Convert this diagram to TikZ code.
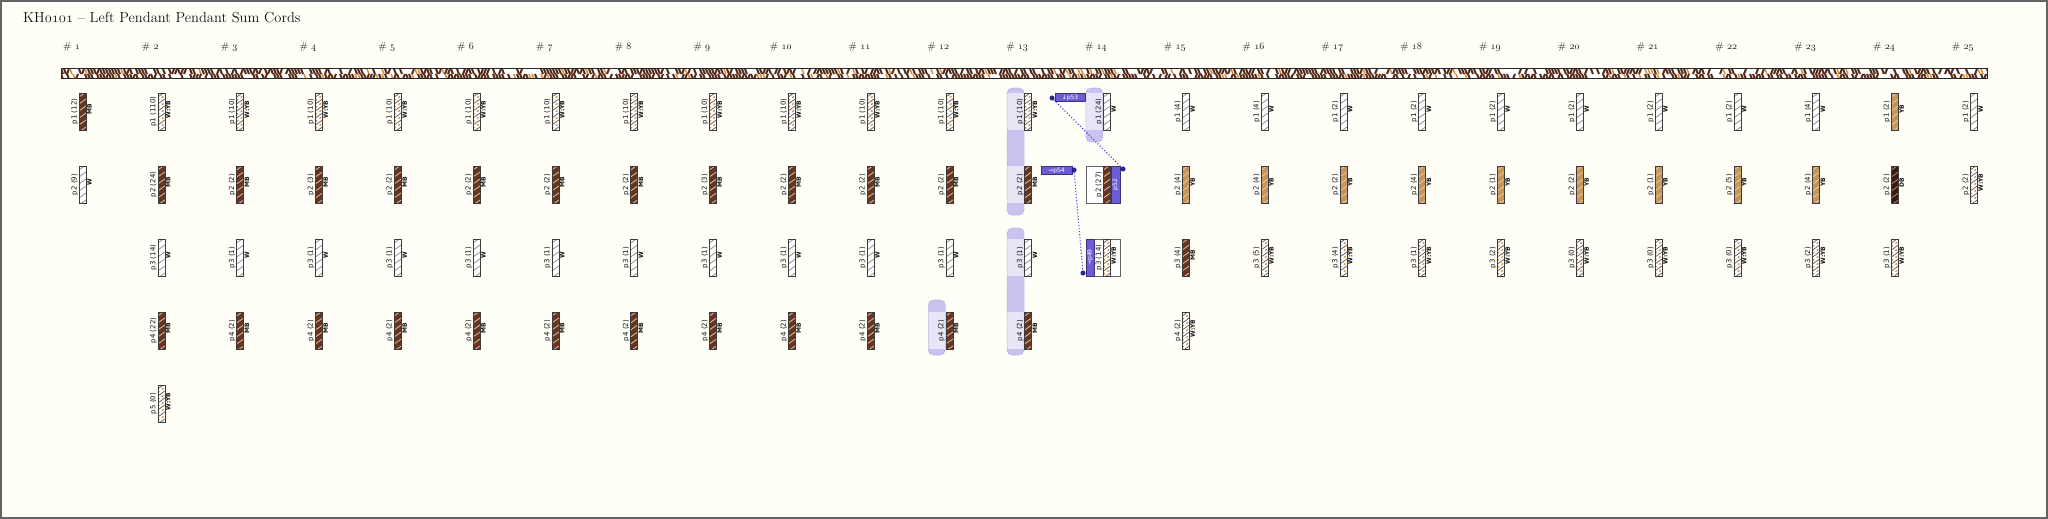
\documentclass[tikz,border=0pt]{standalone}
\usepackage{fontspec}
\newfontfamily\cordfont{DejaVu Sans}

\definecolor{paper}{RGB}{255,254,247}
\definecolor{framegray}{RGB}{100,100,100}
\definecolor{inkdark}{RGB}{20,20,20}
\definecolor{cordMB}{RGB}{104,52,30}
\definecolor{cordYB}{RGB}{200,148,88}
\definecolor{cordDB}{RGB}{62,26,14}
\definecolor{cordedge}{RGB}{60,60,60}
\definecolor{bandouter}{RGB}{201,195,240}
\definecolor{bandinner}{RGB}{231,229,246}
\definecolor{bandedge}{RGB}{175,165,228}
\definecolor{sumblue}{RGB}{108,92,214}
\definecolor{dotblue}{RGB}{40,40,170}
\definecolor{linkblue}{RGB}{80,70,235}

% old style figures (as in the heading)
\newcommand\osn[1]{{\usefont{OML}{cmm}{m}{it}#1}}
% colour codes printed beside the cords
\def\lblW{W}\def\lblMB{MB}\def\lblYB{YB}\def\lblDB{DB}\def\lblWYB{W:YB}

\tikzset{
  cord/.style 2 args={draw=cordedge, line width=.6pt, fill=#1,
    minimum width=7pt, minimum height=37pt, inner sep=0pt, outer sep=0pt,
    path picture={\foreach \k in {0,...,5}
      \draw[#2, line width=.8pt] ([yshift=\k*7pt-2pt]path picture bounding box.south west) -- ++(7pt,5pt);}},
  cord W/.style={cord={white}{gray!85}},
  cord MB/.style={cord={cordMB}{white!70!cordMB}},
  cord YB/.style={cord={cordYB}{white!50!cordYB}},
  cord DB/.style={cord={cordDB}{white!50!cordDB}},
  cord WYB/.style={cord={white}{black!65},
    path picture={\foreach \k in {0,...,5}{
      \draw[black!65, line width=.7pt] ([yshift=\k*7pt-2pt]path picture bounding box.south west) -- ++(7pt,5pt);
      \draw[cordYB!70!orange, line width=1.3pt, dash pattern=on 2pt off 3pt] ([yshift=\k*7pt+1.5pt]path picture bounding box.south west) -- ++(7pt,5pt);}}},
  plabel/.style={rotate=90, anchor=south, inner sep=.8pt, text=inkdark,
    font=\cordfont\fontsize{7}{7}\selectfont},
  klabel/.style={rotate=90, anchor=north, inner sep=1pt, text=inkdark,
    font=\cordfont\bfseries\fontsize{6}{6}\selectfont},
  colhead/.style={anchor=base, inner sep=0pt, text=inkdark, font=\fontsize{10}{12}\selectfont},
  topcord/.style={draw=black!85, line width=1pt, fill=white, inner sep=0pt,
    minimum width=1926pt, minimum height=10pt,
    path picture={\pgfmathsetseed{42}
      \foreach \k in {0,...,642}{
        \foreach \half in {0,1}{
          \pgfmathsetmacro\shade{rnd}
          \ifdim\shade pt<0.46pt
            \draw[cordMB!85!black, line width=2pt] ([xshift=\k*3pt, yshift=-\half*5pt]path picture bounding box.north west) -- ++(2pt,-5pt);
          \else\ifdim\shade pt<0.64pt
            \draw[cordMB!85!black, line width=2pt] ([xshift=\k*3pt+2pt, yshift=-\half*5pt]path picture bounding box.north west) -- ++(-2pt,-5pt);
          \else\ifdim\shade pt<0.72pt
            \draw[cordYB!70!orange, line width=1.5pt] ([xshift=\k*3pt, yshift=-\half*5pt]path picture bounding box.north west) -- ++(2pt,-5pt);
          \fi\fi\fi}}}},
  cellbox/.style={draw=gray!80!black, fill=white, line width=.6pt, inner sep=0pt,
    minimum width=34pt, minimum height=37pt},
  sumtag/.style={draw=sumblue!55!black, fill=sumblue, text=white, line width=.5pt,
    inner sep=.5pt, minimum height=8pt, font=\cordfont\fontsize{6}{6}\selectfont},
  dot/.style={circle, fill=dotblue, draw=dotblue!50!black, inner sep=0pt, minimum size=4.5pt},
  link/.style={draw=linkblue, dotted, line width=1.1pt}
}

\begin{document}
\begin{tikzpicture}[x=1pt, y=-1pt]
% page: 2048 x 519, one unit = one pixel, y grows downwards
\useasboundingbox (0,0) rectangle (2048,519);
\fill[paper] (0,0) rectangle (2048,519);
\draw[framegray, line width=2pt] (1,1) rectangle (2047,518);

% Heading
\node[anchor=base west, inner sep=0pt, text=inkdark, font=\fontsize{14.5}{16}\selectfont] (title) at (23,23)
  {KH\osn{0101} -- Left Pendant Pendant Sum Cords};

% Column numbers, pitch 78.8 px
\foreach \col in {1,...,25}{
  \node[colhead] (h\col) at ({82.5+(\col-1)*78.8-11},50) {\# \osn{\col}};
}

% Main cord
\node[topcord] (main) at (1024,74) {};

% Sum bands (behind the cords)
\foreach \col/\ya/\yb in {12/300/355, 13/88/215, 13/228/355, 14/88/142}{
  \pgfmathsetmacro\cx{82.5+(\col-1)*78.8}
  \fill[bandouter, rounded corners=5pt] (\cx-21,\ya) rectangle (\cx-4,\yb);
}
\foreach \col/\row in {12/4, 13/1, 13/2, 13/3, 13/4, 14/1}{
  \pgfmathsetmacro\cx{82.5+(\col-1)*78.8}
  \pgfmathsetmacro\cy{93+(\row-1)*73}
  \fill[bandinner] (\cx-21,\cy) rectangle (\cx-4,\cy+37);
}
\foreach \col/\ya/\yb in {12/300/355, 13/88/215, 13/228/355, 14/88/142}{
  \pgfmathsetmacro\cx{82.5+(\col-1)*78.8}
  \draw[bandedge, line width=.6pt, dash pattern=on 1.5pt off 1pt, rounded corners=5pt] (\cx-21,\ya) rectangle (\cx-4,\yb);
}

% Boxed cells of column 14
\node[cellbox] (b14-2) at (1103,184.5) {};
\node[cellbox] (b14-3) at (1103,257.5) {};

% Pendant cords: column / row / value / colour
\foreach \col/\row/\num/\kind in {
  1/1/12/MB, 1/2/9/W,
  2/1/110/WYB, 2/2/24/MB, 2/3/14/W, 2/4/22/MB, 2/5/0/WYB,
  3/1/10/WYB, 3/2/2/MB, 3/3/1/W, 3/4/2/MB,
  4/1/10/WYB, 4/2/3/MB, 4/3/1/W, 4/4/2/MB,
  5/1/10/WYB, 5/2/2/MB, 5/3/1/W, 5/4/2/MB,
  6/1/10/WYB, 6/2/2/MB, 6/3/1/W, 6/4/2/MB,
  7/1/10/WYB, 7/2/2/MB, 7/3/1/W, 7/4/2/MB,
  8/1/10/WYB, 8/2/2/MB, 8/3/1/W, 8/4/2/MB,
  9/1/10/WYB, 9/2/3/MB, 9/3/1/W, 9/4/2/MB,
  10/1/10/WYB, 10/2/2/MB, 10/3/1/W, 10/4/2/MB,
  11/1/10/WYB, 11/2/2/MB, 11/3/1/W, 11/4/2/MB,
  12/1/10/WYB, 12/2/2/MB, 12/3/1/W, 12/4/2/MB,
  13/1/10/WYB, 13/2/2/MB, 13/3/1/W, 13/4/2/MB,
  14/1/24/W, 14/2/27/MB, 14/3/14/WYB,
  15/1/4/W, 15/2/4/YB, 15/3/4/MB, 15/4/2/WYB,
  16/1/4/W, 16/2/4/YB, 16/3/5/WYB,
  17/1/2/W, 17/2/2/YB, 17/3/4/WYB,
  18/1/2/W, 18/2/4/YB, 18/3/1/WYB,
  19/1/2/W, 19/2/1/YB, 19/3/2/WYB,
  20/1/2/W, 20/2/2/YB, 20/3/0/WYB,
  21/1/2/W, 21/2/1/YB, 21/3/0/WYB,
  22/1/2/W, 22/2/5/YB, 22/3/0/WYB,
  23/1/4/W, 23/2/4/YB, 23/3/2/WYB,
  24/1/2/YB, 24/2/2/DB, 24/3/1/WYB,
  25/1/2/W, 25/2/2/WYB}{
  \pgfmathsetmacro\cx{82.5+(\col-1)*78.8}
  \pgfmathsetmacro\cy{111.5+(\row-1)*73}
  \node[cord \kind] (c\col-\row) at (\cx,\cy) {};
  \node[plabel] (c\col-\row-p) at (c\col-\row.west) {p\row\ (\num)};
  \ifnum\col\row=142 \else
    \node[klabel] (c\col-\row-k) at ([yshift=2pt]c\col-\row.east) {\csname lbl\kind\endcsname};
  \fi
}

% Sum tags
\node[sumtag, minimum width=30pt] (p53) at (1070,97.5) {↓p53};
\node[sumtag, minimum width=31pt] (p54) at (1056.5,170.5) {→p54};
\node[sumtag, rotate=90, minimum width=37pt, minimum height=9pt] (p52) at (1115.5,184.5) {p52};
\node[sumtag, rotate=90, minimum width=37pt, minimum height=8pt] (p49) at (1090,257.5) {→p49};

% Links between the tags
\node[dot] (d53) at (1052,98) {};
\node[dot] (d52) at (1123,169) {};
\node[dot] (d54) at (1074,170) {};
\node[dot] (d49) at (1083,273) {};
\draw[link] (d53) -- (d52);
\draw[link] (d54) -- (d49);
\end{tikzpicture}
\end{document}
